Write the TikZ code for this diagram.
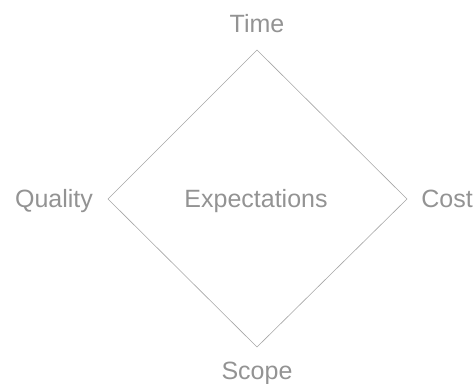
\documentclass[tikz,border=0pt]{standalone}
\usepackage{fontspec}
\setmainfont{Liberation Sans}
\usepackage{tikz}

\tikzset{
    label/.style={anchor=base, inner sep=0pt, text=gray!85, font=\fontsize{25}{25}\selectfont},
    edge/.style={draw=gray!70, line width=0.6pt}
}

\begin{document}
\begin{tikzpicture}[x=1pt, y=-1pt]
    \useasboundingbox (0,0) rectangle (476,383);

    \node[label] (time) at (257,32) {Time};
    \node[label] (cost) at (447,207) {Cost};
    \node[label] (scope) at (257,379) {Scope};
    \node[label] (quality) at (54,207) {Quality};
    \node[label] (expect) at (256,207) {Expectations};

    \coordinate (ttop) at (257,50);
    \coordinate (tright) at (407,199);
    \coordinate (tbottom) at (257,347);
    \coordinate (tleft) at (108,199);

    \draw[edge] (ttop) -- (tright) -- (tbottom) -- (tleft) -- cycle;
\end{tikzpicture}
\end{document}
